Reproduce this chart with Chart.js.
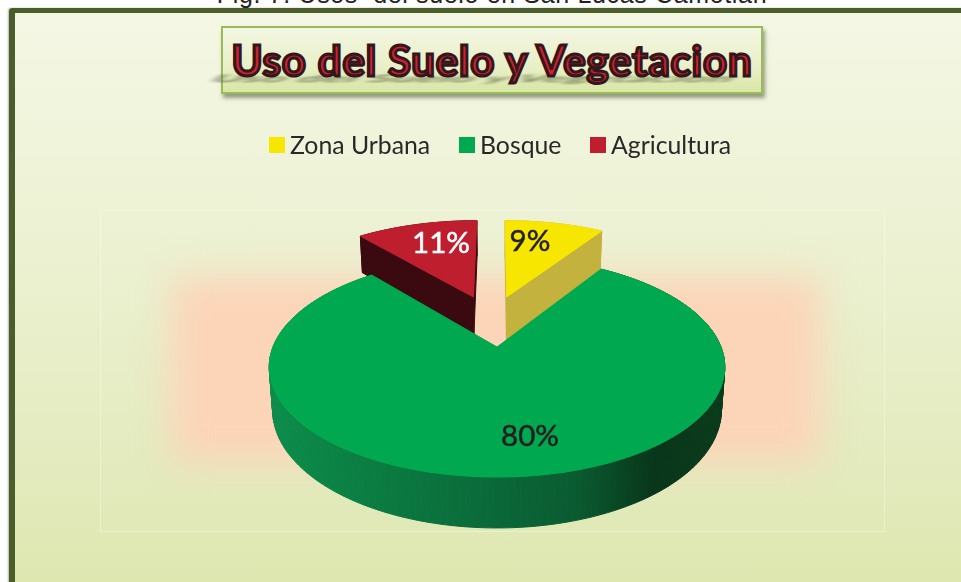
<!DOCTYPE html>
<html lang="es">
<head>
<meta charset="utf-8">
<title>Uso del Suelo y Vegetacion</title>
<script src="https://cdn.jsdelivr.net/npm/chart.js@4/dist/chart.umd.js"></script>
<style>
html, body { margin: 0; padding: 0; background: #fff; overflow: hidden; }
#page { position: relative; width: 961px; height: 582px; overflow: hidden; }
#caption { position: absolute; left: 0; width: 984px; top: -20px; text-align: center; font: 25px "Liberation Sans", Arial, sans-serif; letter-spacing: .65px; color: #222; white-space: pre; }
#panel { position: absolute; left: 9px; top: 8px; width: 1000px; height: 640px; box-sizing: border-box; border: 6px solid #4a5d2b; border-top-width: 5px; border-radius: 3px;
    background: linear-gradient(#f4f7e4 0%, #ecf1d2 38%, #e3eabc 75%, #dbe5a8 100%); box-shadow: -1px 0 2px rgba(0,0,0,.3); }
#plotbox { position: absolute; left: 100px; top: 210px; width: 785px; height: 322px; box-sizing: border-box; border: 1px solid rgba(255,255,255,.35); }
#glow { position: absolute; left: 172px; top: 278px; width: 648px; height: 184px; background: #fcd4b8; filter: blur(18px); }
#titlebox { position: absolute; z-index: 0; left: 221px; top: 26px; width: 542px; height: 68px; box-sizing: border-box; border: 2px solid #9bbb59;
    background: linear-gradient(#f3f6e2, #e9f0c8 60%, #d8e6a6); box-shadow: 2px 4px 4px rgba(70,80,50,.55); }
#title { position: relative; margin: 0; text-align: center; font: bold 42px/65px Lato, sans-serif; letter-spacing: .8px; color: #d0202c;
    -webkit-text-stroke: 3px #33171c; white-space: nowrap; }
#title::before { content: attr(data-text); position: absolute; left: -18px; right: 18px; top: 18px; transform: scaleY(.25) skewX(-20deg);
    color: #57613f; -webkit-text-stroke: 0; filter: blur(4px); opacity: .75; z-index: -1; }
#legend { position: absolute; left: 0; top: 0; }
.legend-item { position: absolute; top: 128px; height: 34px; font: 24.8px/34px Lato, sans-serif; color: #2b2728; white-space: nowrap; }
.legend-item i { position: absolute; left: -21px; top: 9px; width: 16px; height: 16px; }
canvas { position: absolute; left: 0; top: 0; }
</style>
</head>
<body>
<div id="page">
    <div id="caption">Fig. 7. Usos  del suelo en San Lucas Camotlán</div>
    <div id="panel"></div>
    <div id="plotbox"></div>
    <div id="glow"></div>
    <div id="titlebox"><h1 id="title" data-text="Uso del Suelo y Vegetacion">Uso del Suelo y Vegetacion</h1></div>
    <canvas id="chart" width="961" height="582"></canvas>
    <div id="legend"></div>
</div>
<script>
var categories = ['Zona Urbana', 'Bosque', 'Agricultura'];
var shares = [9, 80, 11];
var sliceColors = ['#f7e600', '#00a94f', '#be1e2d'];
var wallColors = ['#c4b23e', null, '#3a0a10'];

// legend text start positions, same order as categories
var legendLeft = [290, 480, 611];
// pull-out of each slice, in radius units of the flat pie
var sliceShift = [[0.047, -0.514], [0, 0], [-0.115, -0.514]];
// side wall height per slice, the far ones run on under the big slice
var wallScale = [1.15, 1, 1.08];
// where the percent goes, from the pie centre
var labelOffset = [[33, -106], [33, 89], [-56, -104]];
var labelColors = ['#231f20', '#231f20', '#ffffff'];

// the fake 3D view, k is the perspective strength
var TILT = 0.475, K = 0.1818, DEPTH = 0.186;

function project(el, u, v) {
    var w = 1 - K * v;
    return {
        x: el.x + el.outerRadius * u / w,
        y: el.y + el.outerRadius * TILT * v / w,
        w: w
    };
}

function dropped(el, p, scale) {
    return { x: el.x + (p.x - el.x) * 0.985, y: p.y + scale * el.outerRadius * DEPTH / p.w };
}

function outline(el, shift) {
    var pts = [project(el, shift[0], shift[1])];
    var steps = Math.ceil((el.endAngle - el.startAngle) * 40);
    for (var i = 0; i <= steps; i++) {
        var a = el.startAngle + (el.endAngle - el.startAngle) * i / steps;
        pts.push(project(el, shift[0] + Math.cos(a), shift[1] + Math.sin(a)));
    }
    return pts;
}

function fillPath(ctx, pts, color) {
    ctx.beginPath();
    pts.forEach(function (p, i) {
        if (i === 0) ctx.moveTo(p.x, p.y); else ctx.lineTo(p.x, p.y);
    });
    ctx.closePath();
    ctx.fillStyle = color;
    ctx.fill();
}

function drawSlice(ctx, el, index, wall) {
    var pts = outline(el, sliceShift[index]);
    var scale = wallScale[index];
    ctx.lineWidth = 1;
    pts.forEach(function (p, i) {
        var next = pts[(i + 1) % pts.length];
        // big slice only shows its round side, its cut faces stay under the top
        if (index === 1 && (i === 0 || i === pts.length - 1)) return;
        fillPath(ctx, [p, next, dropped(el, next, scale), dropped(el, p, scale)], wall);
        ctx.strokeStyle = wall;
        ctx.stroke();
    });
    fillPath(ctx, pts, sliceColors[index]);
    ctx.strokeStyle = sliceColors[index];
    ctx.stroke();
}

var pie3d = {
    id: 'pie3d',
    beforeDatasetsDraw: function (chart) {
        var ctx = chart.ctx;
        var arcs = chart.getDatasetMeta(0).data;
        var r = arcs[1].outerRadius;

        var greenWall = ctx.createLinearGradient(arcs[1].x - r, 0, arcs[1].x + r, 0);
        greenWall.addColorStop(0, '#0c8c4a');
        greenWall.addColorStop(0.45, '#0a6c3a');
        greenWall.addColorStop(0.68, '#0a5a30');
        greenWall.addColorStop(0.85, '#08361a');
        greenWall.addColorStop(1, '#0a3a1c');

        ctx.save();
        // far slices first, the big one sits in front of them
        drawSlice(ctx, arcs[2], 2, wallColors[2]);
        drawSlice(ctx, arcs[0], 0, wallColors[0]);
        drawSlice(ctx, arcs[1], 1, greenWall);

        ctx.font = '29.5px Lato, sans-serif';
        ctx.textAlign = 'center';
        ctx.textBaseline = 'middle';
        ctx.lineWidth = 0.5;
        arcs.forEach(function (el, i) {
            var x = el.x + labelOffset[i][0], y = el.y + labelOffset[i][1];
            ctx.fillStyle = labelColors[i];
            ctx.strokeStyle = labelColors[i];
            ctx.fillText(shares[i] + '%', x, y);
            ctx.strokeText(shares[i] + '%', x, y);
        });
        ctx.restore();
        return false;
    }
};

var htmlLegend = {
    id: 'htmlLegend',
    afterUpdate: function (chart) {
        var box = document.getElementById('legend');
        box.innerHTML = '';
        chart.options.plugins.legend.labels.generateLabels(chart).forEach(function (item, i) {
            var row = document.createElement('div');
            row.className = 'legend-item';
            row.style.left = legendLeft[i] + 'px';
            var swatch = document.createElement('i');
            swatch.style.background = item.fillStyle;
            row.appendChild(swatch);
            row.appendChild(document.createTextNode(item.text));
            box.appendChild(row);
        });
    }
};

new Chart(document.getElementById('chart'), {
    type: 'pie',
    data: {
        labels: categories,
        datasets: [{ data: shares, backgroundColor: sliceColors, borderWidth: 0 }]
    },
    options: {
        responsive: false,
        animation: false,
        events: [],
        layout: { padding: { left: 273, right: 240, top: 123, bottom: 11 } },
        plugins: {
            legend: { display: false },
            title: { display: false },
            tooltip: { enabled: false }
        }
    },
    plugins: [pie3d, htmlLegend]
});
</script>
</body>
</html>
